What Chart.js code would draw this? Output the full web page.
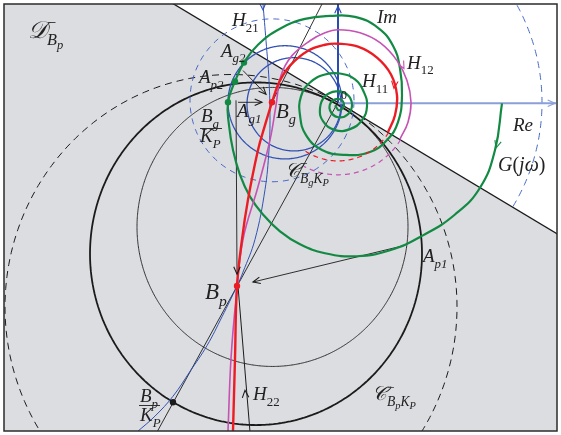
<!DOCTYPE html>
<html>
<head>
<meta charset="utf-8">
<script src="https://cdn.jsdelivr.net/npm/chart.js@4/dist/chart.umd.min.js"></script>
<style>
  html, body { margin: 0; padding: 0; background: #ffffff; }
  canvas { display: block; }
</style>
</head>
<body>
<canvas id="plot" width="561" height="435"></canvas>
<script>
// Complex-plane values (Re, Im); the origin is where the two axes cross.

// Nyquist spiral G(jw), from w = 0 inwards, clockwise
const spiralG = [
  [164,-1],[157,-48],[142,-86],[117,-113],[85,-134],[52,-149],[19,-155],[-13,-152],
  [-38,-143],[-58,-130],[-75,-113],[-88,-95],[-98,-73],[-105,-48],[-109,-23],[-110,0],
  [-103,21],[-94,40],[-80,58],[-58,74],[-33,84],[-8,87],[17,86],[40,75],[55,57],
  [62,34],[64,7],[60,-20],[49,-38],[32,-50],[7,-53],[-16,-48],[-32,-33],[-38,-13],
  [-37,6],[-28,20],[-13,28],[2,29],[17,23],[26,10],[29,-4],[24,-18],[12,-27],[-3,-28],
  [-15,-19],[-18,-6],[-13,6],[-2,11],[9,8],[14,-2],[10,-12],[0,-15],[-8,-8],[-6,1],
  [2,3],[6,-3],[1,-8],[-3,-3]
];
// Loci H11, H12 (solid part), H21, H22
const locusH11 = [
  [-105,-331],[-103,-258],[-101,-185],[-96,-138],[-90,-98],[-80,-48],[-73,-23],[-66,0],
  [-59,20],[-48,37],[-30,52],[-13,58],[0,59],[20,56],[39,45],[53,28],[59,7],[57,-13],[50,-30]
];
const locusH12 = [
  [-110,-331],[-107,-258],[-102,-198],[-95,-138],[-80,-85],[-68,-38],[-62,-3],[-57,27],
  [-46,47],[-28,62],[-13,70],[0,73],[22,70],[42,60],[59,42],[69,22],[73,0],[70,-20],[62,-37]
];
const locusH21 = [
  [-75,99],[-72,62],[-69,22],[-68,-18],[-69,-48],[-73,-88],[-83,-138],[-95,-171],
  [-101,-185],[-116,-216],[-131,-245],[-148,-271],[-165,-296],[-183,-316],[-201,-332]
];
const locusH22 = [[-88,-332],[-100,-185]];
// Circle arcs continuing H11 / H12 inside the forbidden region: [cx, cy, r, fromDeg, toDeg]
const arcH11 = [0, 0, 59, -31, -126];
const arcH12 = [0, 0, 73, -31, -118];
// Boundary of the region D-_Bp (straight line through the origin)
const boundary = [[-340,205],[225,-136]];
// Circles C-_BpKp: [cx, cy, rx, ry]
const circleBpKpThick = [-82, -152.5, 166, 172.5];
const circleBpKpThin = [-65.5, -125.5, 135.5, 140.5];
const circleBpKpDashed = [-107, -206, 226, 234];
// Circles C-_BgKp
const circlesBg = [[-53, 0, 57, 57], [-44, -2, 47, 47]];
const circleBgDashed = [-66, 2, 82, 82];
const arcOuterDashed = [0, 0, 204, -31, 29];
// Straight rays
const rayBp = [[0,0],[-181,-332]];
const rayBg = [[-16,99],[-66,0]];
// Points
const ptsGreen = [[-94,40],[-103,21],[-110,0]];      // Ag2, Ap2, Bg/Kp
const ptsRed = [[-66,0],[-101,-185]];                // Bg, Bp
const ptsBlack = [[-165,-302]];                      // Bp/Kp
// Vectors drawn as arrows: [fromX, fromY, toX, toY]
const vectors = [
  [-100,0,-76,0],        // Ag1 -> Bg
  [-95,32,-72,8],        // Ap2 -> Bg
  [-102,2,-101,-173],    // down to Bp
  [67,-144,-85,-181]     // Ap1 -> Bp
];

const C = {
  green: '#138a44', red: '#ec1c24', mag: '#c652b4', blue: '#3152b4',
  blueL: '#4468c8', re: '#8b9fd9', im: '#2c4bb0', black: '#1b1b1b', grey: '#dcdde0'
};

const P = a => a.map(([x, y]) => ({x, y}));
function ellipse([cx, cy, rx, ry], a0 = 0, a1 = 360, n = 240) {
  const out = [];
  for (let i = 0; i <= n; i++) {
    const a = (a0 + (a1 - a0) * i / n) * Math.PI / 180;
    out.push({x: cx + rx * Math.cos(a), y: cy + ry * Math.sin(a)});
  }
  return out;
}
const arc = ([cx, cy, r, a0, a1]) => ellipse([cx, cy, r, r], a0, a1, 120);
function line(data, color, width, extra = {}) {
  return Object.assign({data, borderColor: color, borderWidth: width, showLine: true,
    pointRadius: 0, fill: false, tension: 0, order: 10}, extra);
}
// round curves: a tiny tension keeps Chart.js on its full path renderer
const round = {tension: 0.001};

const datasets = [
  line(P(boundary), C.black, 1.3, {fill: 'start', backgroundColor: C.grey, order: 90}),
  line(ellipse(circleBpKpDashed), C.black, 1, {borderDash: [7, 5], order: 60}),
  line(ellipse(circleBpKpThin), C.black, 0.9, {...round, order: 60}),
  line(ellipse(circleBpKpThick), C.black, 1.8, {...round, order: 60}),
  line(arc(arcOuterDashed), C.blueL, 1, {borderDash: [7, 5], order: 55}),
  line(ellipse(circleBgDashed), C.blueL, 1, {borderDash: [6, 5], order: 55}),
  line(ellipse(circlesBg[0]), C.blue, 1.3, {...round, order: 50}),
  line(ellipse(circlesBg[1]), C.blue, 1.3, {...round, order: 50}),
  line(P(rayBp), C.black, 0.9, {order: 45}),
  line(P(rayBg), C.black, 0.9, {order: 45}),
  line(P(locusH22), C.black, 1, {order: 45}),
  ...vectors.map(v => line(P([[v[0], v[1]], [v[2], v[3]]]), C.black, 0.9, {order: 45})),
  line(P(locusH21), C.blue, 1, {tension: 0.4, order: 40}),
  line(P([[0,0],[0,99]]), C.im, 2, {order: 38}),
  line(P([[0,-1],[218,-1]]), C.re, 2, {order: 38}),
  line(P(spiralG), C.green, 2.2, {tension: 0.45, order: 30}),
  line(arc(arcH12), C.mag, 1.2, {borderDash: [5, 4], order: 25}),
  line(P(locusH12), C.mag, 1.6, {tension: 0.4, order: 25}),
  line(arc(arcH11), C.red, 1.2, {borderDash: [5, 4], order: 20}),
  line(P(locusH11), C.red, 2.4, {tension: 0.4, order: 20}),
  {data: P([...ptsGreen, ...ptsRed, ...ptsBlack]), showLine: false, pointRadius: 3.2,
   pointBorderWidth: 0, order: 0,
   pointBackgroundColor: [C.green, C.green, C.green, C.red, C.red, C.black]}
];

// Arrow heads: [x, y, dirX, dirY, colour]
const arrowHeads = [
  [0, 97, 0, 1, C.im], [217, -1, 1, 0, C.re],
  [-75, 93, 0.05, -1, C.blue], [56, 14, -0.12, -1, C.red], [66, 34, 0.45, -0.89, C.mag],
  [158, -46, -0.28, -0.96, C.green], [-93, -290, -0.08, 1, C.black],
  [-101, -173, 0, -1, C.black], [-76, 0, 1, 0, C.black], [-72, 8, 1, -1.05, C.black],
  [-85, -181, -1, -0.24, C.black]
];

// Labels: [x, y(baseline), size, parts]; part = [text, level, upright, noAdvance]
// level 0 = base, 1 = subscript, -1 = superscript, 2 = second-level subscript
const labels = [
  [-310, 65, 24, [['𝒟', 0], ['−', -1, true, true], ['B', 1], ['p', 2]]],
  [-106, 77, 19, [['H', 0], ['21', 1, true]]],
  [39, 80, 19, [['Im', 0]]],
  [69, 34, 19, [['H', 0], ['12', 1, true]]],
  [24, 15, 19, [['H', 0], ['11', 1, true]]],
  [-117, 46, 19, [['A', 0], ['g2', 1]]],
  [-139, 19, 19, [['A', 0], ['p2', 1]]],
  [-137, -20, 19, [['B', 0], ['g', 1]]],
  [-138, -40, 19, [['K', 0], ['P', 1]]],
  [-101, -15, 19, [['A', 0], ['g1', 1]]],
  [-62, -16, 21, [['B', 0], ['g', 1]]],
  [3, 3, 12, [['0', 0, true]]],
  [-53, -75, 20, [['𝒞', 0], ['−', -1, true, true], ['B', 1], ['g', 2], ['K', 1], ['P', 2]]],
  [175, -29, 19, [['Re', 0]]],
  [160, -69, 20, [['G', 0], ['(', 0, true], ['j', 0], ['ω', 0], [')', 0, true]]],
  [85, -161, 19, [['A', 0], ['p1', 1]]],
  [-133, -198, 23, [['B', 0], ['p', 1]]],
  [-85, -300, 19, [['H', 0], ['22', 1, true]]],
  [-198, -302, 19, [['B', 0], ['p', 1]]],
  [-198, -321, 19, [['K', 0], ['P', 1]]],
  [34, -300, 20, [['𝒞', 0], ['−', -1, true, true], ['B', 1], ['p', 2], ['K', 1], ['P', 2]]]
];
// Fraction bars: [x0, x1, y]
const fractionBars = [[-138, -116, -26], [-199, -178, -305]];

const decor = {
  id: 'decor',
  afterDatasetsDraw(chart) {
    const {ctx, scales: {x, y}, chartArea: a} = chart;
    ctx.save();
    ctx.beginPath();
    ctx.rect(a.left, a.top, a.right - a.left, a.bottom - a.top);
    ctx.clip();
    // arrow heads
    for (const [px, py, dx, dy, col] of arrowHeads) {
      const X = x.getPixelForValue(px), Y = y.getPixelForValue(py);
      const ang = Math.atan2(-dy, dx);
      const L = 8, w = 0.42;
      ctx.strokeStyle = col; ctx.lineWidth = 1.1;
      ctx.beginPath();
      ctx.moveTo(X - L * Math.cos(ang - w), Y - L * Math.sin(ang - w));
      ctx.lineTo(X, Y);
      ctx.lineTo(X - L * Math.cos(ang + w), Y - L * Math.sin(ang + w));
      ctx.stroke();
    }
    // fraction bars
    ctx.strokeStyle = '#333'; ctx.lineWidth = 1;
    for (const [x0, x1, yy] of fractionBars) {
      const Y = Math.round(y.getPixelForValue(yy)) + 0.5;
      ctx.beginPath();
      ctx.moveTo(x.getPixelForValue(x0), Y);
      ctx.lineTo(x.getPixelForValue(x1), Y);
      ctx.stroke();
    }
    // labels
    ctx.fillStyle = '#222222';
    ctx.textBaseline = 'alphabetic';
    for (const [lx, ly, S, parts] of labels) {
      let cx = x.getPixelForValue(lx);
      const by = y.getPixelForValue(ly);
      for (const [t, lev, up, noAdv] of parts) {
        let s = S, off = 0;
        if (lev === 1) { s = S * 0.68; off = S * 0.3; }
        if (lev === -1) { s = S * 0.68; off = -S * 0.42; }
        if (lev === 2) { s = S * 0.52; off = S * 0.45; }
        ctx.font = (up ? '' : 'italic ') + s.toFixed(1) + 'px "Liberation Serif", "DejaVu Serif", serif';
        ctx.fillText(t, cx, by + off);
        if (!noAdv) cx += ctx.measureText(t).width;
      }
    }
    ctx.restore();
  },
  afterDraw(chart) {
    const {ctx, chartArea: a} = chart;
    ctx.save();
    ctx.strokeStyle = '#2b2b2b';
    ctx.lineWidth = 1.5;
    ctx.strokeRect(a.left, a.top, a.right - a.left, a.bottom - a.top);
    ctx.restore();
  }
};

new Chart(document.getElementById('plot'), {
  type: 'scatter',
  data: {datasets},
  options: {
    responsive: false,
    animation: false,
    devicePixelRatio: 1,
    events: [],
    layout: {padding: {left: 4, right: 4, top: 3, bottom: 2}},
    scales: {
      x: {type: 'linear', min: -334, max: 219, display: false},
      y: {type: 'linear', min: -331, max: 99, display: false}
    },
    plugins: {legend: {display: false}, tooltip: {enabled: false}}
  },
  plugins: [decor]
});
</script>
</body>
</html>
